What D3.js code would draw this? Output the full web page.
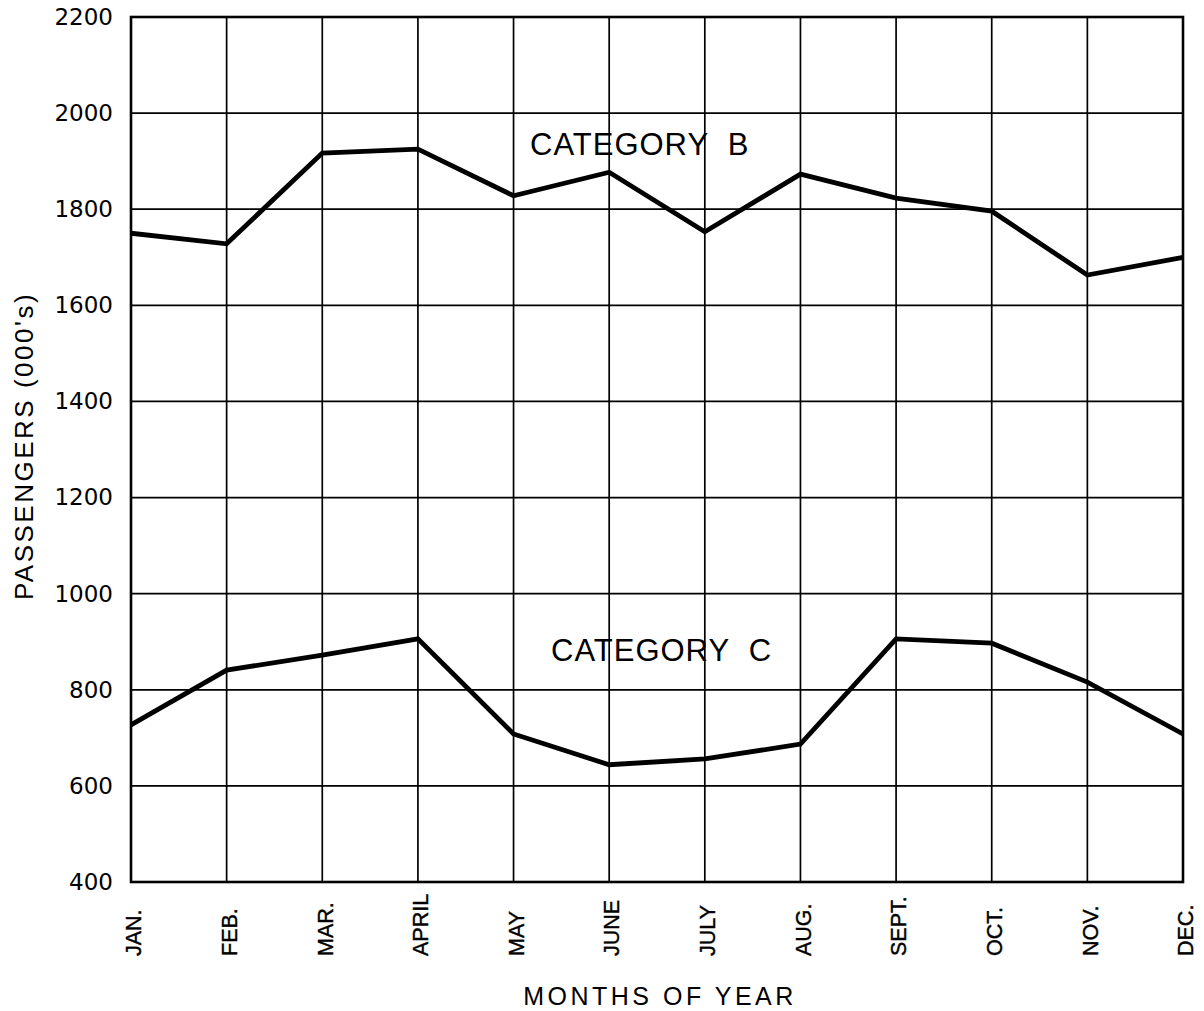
<!DOCTYPE html>
<html>
<head>
<meta charset="utf-8">
<script src="https://cdn.jsdelivr.net/npm/d3@7"></script>
<style>
  html, body { margin: 0; padding: 0; background: #fff; }
  svg { display: block; }
  text { font-family: "Liberation Sans", Arial, sans-serif; fill: #000; }
</style>
</head>
<body>
<svg id="chart" width="1204" height="1011"></svg>
<script>
const months = ["JAN.", "FEB.", "MAR.", "APRIL", "MAY", "JUNE", "JULY", "AUG.", "SEPT.", "OCT.", "NOV.", "DEC."];
const categoryB = [1750, 1728, 1917, 1925, 1828, 1877, 1753, 1873, 1823, 1796, 1663, 1700];
const categoryC = [727, 841, 872, 906, 708, 644, 656, 687, 906, 897, 816, 708];
const yTicks = [400, 600, 800, 1000, 1200, 1400, 1600, 1800, 2000, 2200];
const yTickLabels = ["400", "600", "800", "1000", "1200", "1400", "1600", "1800", "2000", "2200"];

(function () {
const svg = d3.select("#chart");
const mLeft = 131, mRight = 1183, mTop = 17, mBottom = 882;

const x = d3.scalePoint().domain(months).range([mLeft, mRight]);
const y = d3.scaleLinear().domain([400, 2200]).range([mBottom, mTop]);

// vertical grid lines
svg.append("g").selectAll("line").data(months).join("line")
  .attr("x1", d => x(d)).attr("x2", d => x(d))
  .attr("y1", mTop).attr("y2", mBottom)
  .attr("stroke", "#000").attr("stroke-width", 1.7);

// horizontal grid lines
svg.append("g").selectAll("line").data(yTicks).join("line")
  .attr("x1", mLeft).attr("x2", mRight)
  .attr("y1", d => y(d)).attr("y2", d => y(d))
  .attr("stroke", "#000").attr("stroke-width", 1.7);

// frame
svg.append("rect")
  .attr("x", mLeft).attr("y", mTop)
  .attr("width", mRight - mLeft).attr("height", mBottom - mTop)
  .attr("fill", "none").attr("stroke", "#000").attr("stroke-width", 2.6);

// y tick labels
const yAxis = d3.axisLeft(y).tickValues(yTicks)
  .tickFormat((d, i) => yTickLabels[i]).tickSize(0).tickPadding(18);
const gy = svg.append("g").attr("transform", `translate(${mLeft},0)`).call(yAxis);
gy.select(".domain").remove();
gy.selectAll("text")
  .style("font-family", "'DejaVu Sans', sans-serif")
  .style("font-size", "23px").attr("fill", "#000");

// x tick labels (rotated, reading upward, starting at a common baseline)
const xAxis = d3.axisBottom(x).tickSize(0).tickPadding(0);
const gx = svg.append("g").attr("transform", `translate(0,${mBottom})`).call(xAxis);
gx.select(".domain").remove();
gx.selectAll("text")
  .style("font-family", "'Liberation Sans', Arial, sans-serif")
  .style("font-size", "21.5px")
  .attr("fill", "#000")
  .attr("stroke", "#000").attr("stroke-width", 0.4)
  .attr("transform", "rotate(-90)")
  .attr("text-anchor", "start")
  .attr("x", -(956 - mBottom)).attr("y", 2).attr("dy", "0.36em");

// lines
const line = d3.line().x((d, i) => x(months[i])).y(d => y(d));
[categoryB, categoryC].forEach(series => {
  svg.append("path").datum(series)
    .attr("d", line)
    .attr("fill", "none").attr("stroke", "#000")
    .attr("stroke-width", 4.8).attr("stroke-linejoin", "miter");
});

// series labels
svg.append("text").attr("x", 530).attr("y", 155)
  .style("font-size", "31px").style("white-space", "pre")
  .style("letter-spacing", "1px").text("CATEGORY  B");
svg.append("text").attr("x", 551).attr("y", 661)
  .style("font-size", "31px").style("white-space", "pre")
  .style("letter-spacing", "1px").text("CATEGORY  C");

// axis titles
svg.append("text").attr("transform", "translate(33,446) rotate(-90)")
  .attr("text-anchor", "middle").style("font-size", "26px")
  .style("letter-spacing", "2.5px").text("PASSENGERS (000's)");
svg.append("text").attr("x", 660).attr("y", 1005)
  .attr("text-anchor", "middle").style("font-size", "25px")
  .style("white-space", "pre")
  .style("letter-spacing", "3.5px").text("MONTHS OF YEAR");
})();
</script>
</body>
</html>
